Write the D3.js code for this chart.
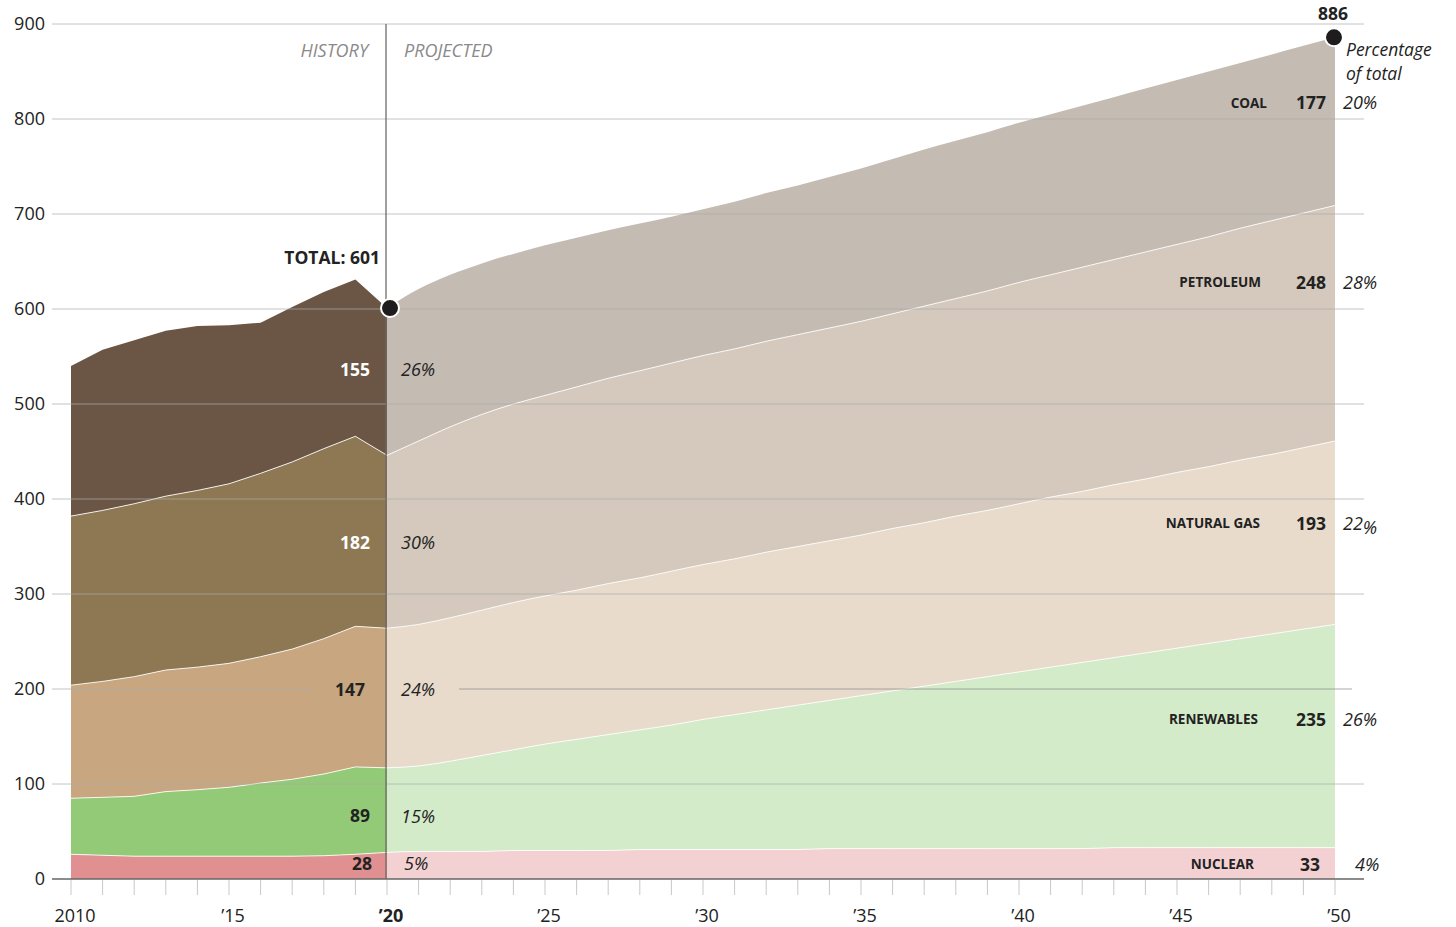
<!DOCTYPE html>
<html><head><meta charset="utf-8">
<script src="https://cdn.jsdelivr.net/npm/d3@7"></script>
<style>
body{margin:0;background:#fff;}
svg{display:block;font-family:"Open Sans",sans-serif;}
</style>
</head><body>
<svg id="c" width="1456" height="927"></svg>
<script>
// ---------- DATA ----------
const keys = ["nuclear","renewables","gas","petroleum","coal"]; // bottom -> top
const histYears = [2010,2011,2012,2013,2014,2015,2016,2017,2018,2019,2020];
const histNuclear    = [26,25,24,24,24,24,24,24,24.5,26,28];
const histRenewables = [59,61,63,68,70,72.5,77,81,86,92,89];
const histGas        = [119,122,126,128,129,130.5,133,137,142.5,148,147];
const histPetroleum  = [178,180,182,183,186,189,193,197,200,200,182];
const histCoal       = [158,169,172,174,173,167,158.6,163,165,165,155];

const projYears = [2020,2021,2022,2023,2024,2025,2026,2027,2028,2029,2030,2031,2032,2033,2034,2035,2036,2037,2038,2039,2040,2041,2042,2043,2044,2045,2046,2047,2048,2049,2050];
const projNuclear    = [28,29,29,29,30,30,30,30,31,31,31,31,31,31,32,32,32,32,32,32,32,32,32,33,33,33,33,33,33,33,33];
const projRenewables = [89,90,95,101,106,112,117,122,126,131,137,142,147,152,156,161,166,171,176,181,186,191,196,200,205,210,215,220,225,230,235];
const projGas        = [147,149,151,153,155,156,157,159,160,162,163,164,166,167,168,169,171,172,174,175,177,179,180,182,183,185,186,188,189,191,193];
const projPetroleum  = [182,193,201,206,209,211,214,216,218,219,220,221,222,223,224,225,226,228,229,231,233,234,236,237,239,240,242,244,246,247,248];
const projCoal       = [155,160,160,159,158,158,157,156,155,154,154,155,156,157,159,161,163,165,166,167,168,169,170,171,172,173,174,174,175,176,177];

const yTicks = [0,100,200,300,400,500,600,700,800,900];
const xLabelYears = [2010,2015,2020,2025,2030,2035,2040,2045,2050];
const xLabelText  = ["2010","\u201915","\u201920","\u201925","\u201930","\u201935","\u201940","\u201945","\u201950"];

// values at 2020 and 2050
const total2020 = 601, total2050 = 886;
const labels2020 = [155,182,147,89,28];
const pct2020 = ["26%","30%","24%","15%","5%"];
const names2050 = ["COAL","PETROLEUM","NATURAL GAS","RENEWABLES","NUCLEAR"];
const values2050 = [177,248,193,235,33];
const pct2050 = ["20","28","22","26","4"];

// ---------- STYLE ----------
const histColors = {coal:"#6b5645", petroleum:"#8e7853", gas:"#c8a680", renewables:"#93ca78", nuclear:"#e09090"};
const projColors = {coal:"#c4bbb3", petroleum:"#d4c9bc", gas:"#e8dbcc", renewables:"#d3ebc9", nuclear:"#f3d1d3"};

const x = d3.scaleLinear().domain([2010,2050]).range([71,1335]);
const y = d3.scaleLinear().domain([0,900]).range([879,24]);
const svg = d3.select("#c");

function drawStack(years, cols, colors, curve){
  const rows = years.map((yr,i)=>{const r={year:yr}; keys.forEach(k=>r[k]=cols[k][i]); return r;});
  const series = d3.stack().keys(keys)(rows);
  const area = d3.area().x(d=>x(d.data.year)).y0(d=>y(d[0])).y1(d=>y(d[1])).curve(curve);
  const line = d3.line().x(d=>x(d.data.year)).y(d=>y(d[1])).curve(curve);
  const g = svg.append("g");
  g.selectAll("path.a").data(series).join("path").attr("class","a")
    .attr("d",area).attr("fill",d=>colors[d.key]);
  g.selectAll("path.l").data(series.slice(0,-1)).join("path").attr("class","l")
    .attr("d",line).attr("fill","none").attr("stroke","#fff").attr("stroke-width",1).attr("stroke-opacity",0.85);
  return series;
}
drawStack(histYears, {nuclear:histNuclear, renewables:histRenewables, gas:histGas, petroleum:histPetroleum, coal:histCoal}, histColors, d3.curveLinear);
drawStack(projYears, {nuclear:projNuclear, renewables:projRenewables, gas:projGas, petroleum:projPetroleum, coal:projCoal}, projColors, d3.curveMonotoneX);

// gridlines (over areas)
const grid = svg.append("g").attr("stroke","#adadad").attr("stroke-opacity",0.7).attr("stroke-width",1);
yTicks.filter(v=>v>0 && v!==200).forEach(v=>{
  grid.append("line").attr("x1",52).attr("x2",1364).attr("y1",y(v)).attr("y2",y(v));
});
// 200 line has a gap for labels
grid.append("line").attr("x1",52).attr("x2",310).attr("y1",y(200)).attr("y2",y(200));
grid.append("line").attr("x1",459).attr("x2",1352).attr("y1",y(200)).attr("y2",y(200)).attr("stroke","#888");

// y labels
svg.append("g").selectAll("text").data(yTicks).join("text")
  .attr("x",45).attr("y",d=>y(d)).attr("dy","0.35em").attr("text-anchor","end")
  .attr("font-size",18).attr("fill","#222").text(d=>d);

// x ticks
const tickYears = d3.range(2010,2051);
svg.append("g").selectAll("line").data(tickYears).join("line")
  .attr("x1",d=>x(d)).attr("x2",d=>x(d)).attr("y1",880).attr("y2",895)
  .attr("stroke","#c8c8c8").attr("stroke-width",1);
svg.append("line").attr("x1",52).attr("x2",1364).attr("y1",y(0)).attr("y2",y(0))
  .attr("stroke","#666").attr("stroke-width",1.5);
svg.append("g").selectAll("text").data(xLabelYears).join("text")
  .attr("x",d=>x(d)+4).attr("y",922).attr("text-anchor","middle")
  .attr("font-size",18).attr("fill","#222")
  .attr("font-weight",d=>d===2020?700:400)
  .text((d,i)=>xLabelText[i]);

// history / projected divider
svg.append("line").attr("x1",x(2020)-1).attr("x2",x(2020)-1).attr("y1",y(900)).attr("y2",y(0))
  .attr("stroke","#6f6a66").attr("stroke-width",1.3);
svg.append("text").attr("x",368).attr("y",57).attr("text-anchor","end")
  .attr("font-size",18).attr("font-style","italic").attr("fill","#8a8a8a").text("HISTORY");
svg.append("text").attr("x",404).attr("y",57)
  .attr("font-size",18).attr("font-style","italic").attr("fill","#8a8a8a").text("PROJECTED");

// total dots
svg.append("circle").attr("cx",x(2020)+3).attr("cy",y(total2020)).attr("r",9)
  .attr("fill","#1e1c1d").attr("stroke","#fff").attr("stroke-width",2);
svg.append("circle").attr("cx",x(2050)-1).attr("cy",y(total2050)).attr("r",9)
  .attr("fill","#1e1c1d").attr("stroke","#fff").attr("stroke-width",2);
svg.append("text").attr("x",380).attr("y",264).attr("text-anchor","end")
  .attr("font-size",17.5).attr("font-weight",700).attr("fill","#222").text("TOTAL: " + total2020);
svg.append("text").attr("x",1333).attr("y",20).attr("text-anchor","middle")
  .attr("font-size",17.5).attr("font-weight",700).attr("fill","#222").text(total2050);
svg.append("text").attr("x",1346).attr("y",56)
  .attr("font-size",17.5).attr("font-style","italic").attr("fill","#222").text("Percentage");
svg.append("text").attr("x",1346).attr("y",80)
  .attr("font-size",17.5).attr("font-style","italic").attr("fill","#222").text("of total");

// 2020 labels
const lab2020Y = [536,354,199,66,16];
const lab2020Fill = ["#fff","#fff","#222","#222","#222"];
const lab2020X = [370,370,365,370,372];
labels2020.forEach((v,i)=>{
  svg.append("text").attr("x",lab2020X[i]).attr("y",y(lab2020Y[i])).attr("dy","0.35em")
    .attr("text-anchor","end").attr("font-size",17.5).attr("font-weight",700)
    .attr("fill",lab2020Fill[i]).text(v);
  svg.append("text").attr("x",i===4?404:401).attr("y",y(lab2020Y[i])).attr("dy","0.35em")
    .attr("font-size",18).attr("font-style","italic").attr("fill","#222").text(pct2020[i]);
});

// 2050 labels
const lab2050Y = [817,628,374,168,15];
const nameX = [1267,1261,1260,1258,1254];
const valX = [1326,1326,1326,1326,1320];
const pctX = [1343,1343,1343,1343,1355];
names2050.forEach((n,i)=>{
  const yy = y(lab2050Y[i]);
  svg.append("text").attr("x",nameX[i]).attr("y",yy).attr("dy","0.35em").attr("text-anchor","end")
    .attr("font-size",13.5).attr("font-weight",700).attr("fill","#222").text(n);
  svg.append("text").attr("x",valX[i]).attr("y",yy).attr("dy","0.35em").attr("text-anchor","end")
    .attr("font-size",17.5).attr("font-weight",700).attr("fill","#222").text(values2050[i]);
  const t = svg.append("text").attr("x",pctX[i]).attr("y",yy).attr("dy","0.35em")
    .attr("font-size",18).attr("font-style","italic").attr("fill","#222");
  t.append("tspan").text(pct2050[i]);
  t.append("tspan").attr("dy", i===2?4:0).text("%");
});
</script>
</body></html>
